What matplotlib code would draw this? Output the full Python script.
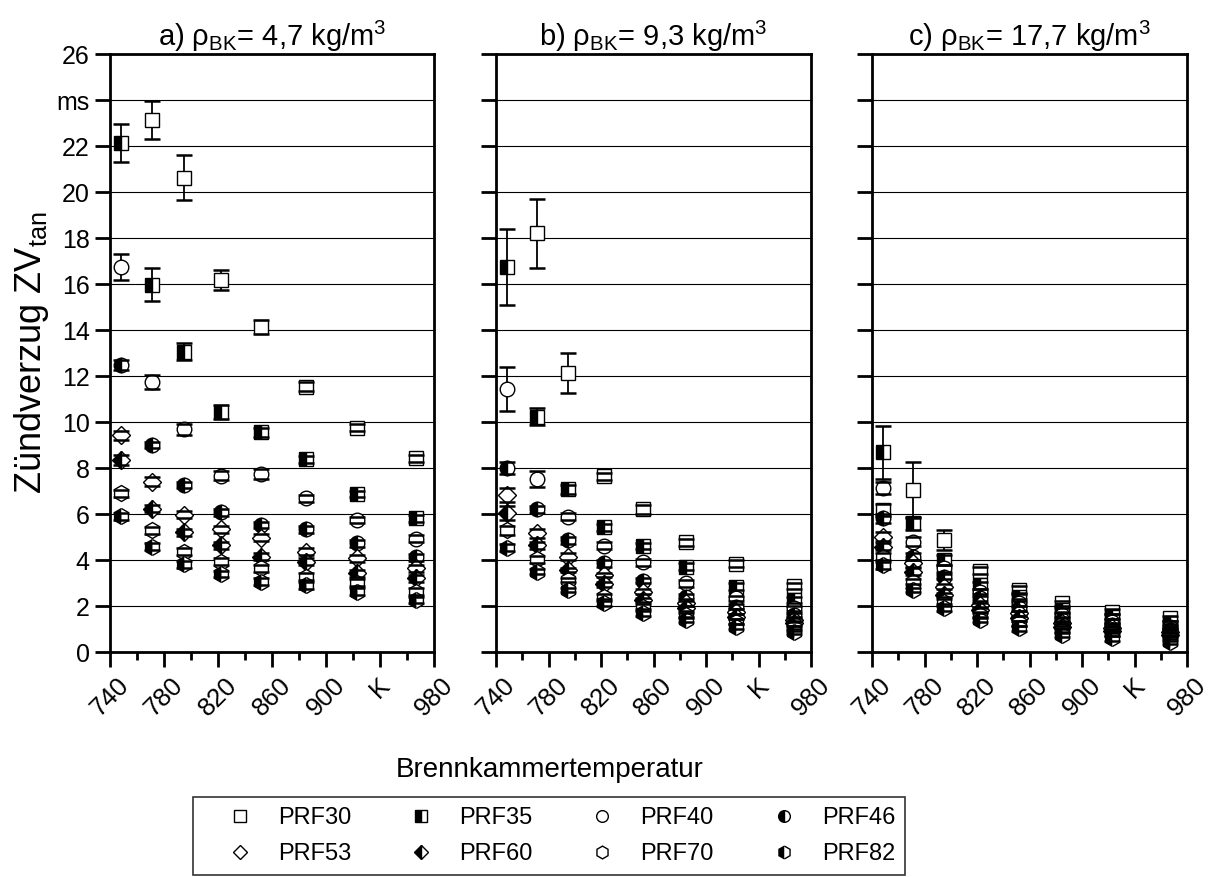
import numpy as np
import matplotlib
matplotlib.use('Agg')
import matplotlib.pyplot as plt
from matplotlib.lines import Line2D

plt.rcParams['font.family'] = ['Liberation Sans', 'DejaVu Sans']
plt.rcParams['mathtext.fontset'] = 'custom'
plt.rcParams['mathtext.rm'] = 'Liberation Sans'
plt.rcParams['mathtext.it'] = 'Liberation Sans:italic'
plt.rcParams['mathtext.bf'] = 'Liberation Sans:bold'

nan = np.nan
temps = [748, 771, 795, 822, 852, 885, 923, 967]
series = ['PRF30', 'PRF35', 'PRF40', 'PRF46', 'PRF53', 'PRF60', 'PRF70', 'PRF82']
titles = ['a) ρ$_{\\mathrm{BK}}$= 4,7 kg/m$^3$',
          'b) ρ$_{\\mathrm{BK}}$= 9,3 kg/m$^3$',
          'c) ρ$_{\\mathrm{BK}}$= 17,7 kg/m$^3$']

# panel a (4,7 kg/m3): values and errors per series
a_prf30 = [nan, 23.12, 20.62, 16.17, 14.12, 11.54, 9.75, 8.42]
a_prf35 = [22.14, 15.96, 13.06, 10.45, 9.55, 8.38, 6.87, 5.81]
a_prf40 = [16.75, 11.75, 9.68, 7.67, 7.74, 6.68, 5.74, 4.93]
a_prf46 = [12.48, 9.00, 7.26, 6.07, 5.52, 5.33, 4.72, 4.12]
a_prf53 = [9.43, 7.41, 5.96, 5.33, 4.97, 4.36, 4.07, 3.64]
a_prf60 = [8.35, 6.22, 5.20, 4.65, 4.14, 3.93, 3.42, 3.20]
a_prf70 = [6.90, 5.30, 4.36, 3.93, 3.64, 3.27, 3.01, 2.62]
a_prf82 = [5.91, 4.58, 3.81, 3.39, 3.06, 2.91, 2.62, 2.26]
a_err30 = [nan, 0.83, 0.97, 0.42, 0.30, 0.20, 0.15, 0.15]
a_err35 = [0.83, 0.72, 0.36, 0.30, 0.20, 0.15, 0.15, 0.15]
a_err40 = [0.57, 0.30, 0.25, 0.20, 0.20, 0.15, 0.15, 0.15]
a_err46 = [0.20, 0.15, 0.15, 0.15, 0.15, 0.15, 0.15, 0.15]
a_err53 = [0.20, 0.20, 0.15, 0.15, 0.15, 0.15, 0.15, 0.15]
a_err60 = [0.20, 0.15, 0.15, 0.15, 0.15, 0.15, 0.15, 0.15]
a_err70 = [0.15, 0.15, 0.15, 0.15, 0.15, 0.15, 0.15, 0.15]
a_err82 = [0.15, 0.15, 0.15, 0.15, 0.15, 0.15, 0.15, 0.15]

# panel b (9,3 kg/m3)
b_prf30 = [nan, 18.20, 12.12, 7.65, 6.20, 4.78, 3.83, 2.87]
b_prf35 = [16.72, 10.23, 7.07, 5.42, 4.61, 3.71, 2.84, 2.26]
b_prf40 = [11.42, 7.51, 5.88, 4.62, 3.90, 2.99, 2.33, 1.90]
b_prf46 = [7.99, 6.20, 4.86, 3.86, 3.10, 2.41, 1.97, 1.61]
b_prf53 = [6.83, 5.16, 4.14, 3.35, 2.62, 2.12, 1.75, 1.39]
b_prf60 = [6.06, 4.65, 3.57, 2.94, 2.26, 1.90, 1.54, 1.25]
b_prf70 = [5.30, 4.04, 3.13, 2.41, 1.97, 1.61, 1.32, 1.03]
b_prf82 = [4.54, 3.49, 2.70, 2.12, 1.68, 1.39, 1.10, 0.88]
b_err30 = [nan, 1.50, 0.87, 0.15, 0.18, 0.15, 0.15, 0.15]
b_err35 = [1.65, 0.36, 0.20, 0.15, 0.15, 0.15, 0.15, 0.15]
b_err40 = [0.95, 0.35, 0.15, 0.15, 0.15, 0.15, 0.10, 0.10]
b_err46 = [0.25, 0.15, 0.15, 0.15, 0.10, 0.10, 0.10, 0.10]
b_err53 = [0.30, 0.20, 0.15, 0.10, 0.10, 0.10, 0.10, 0.10]
b_err60 = [0.30, 0.15, 0.10, 0.10, 0.10, 0.10, 0.10, 0.10]
b_err70 = [0.20, 0.15, 0.10, 0.10, 0.10, 0.10, 0.10, 0.10]
b_err82 = [0.15, 0.10, 0.10, 0.10, 0.10, 0.10, 0.10, 0.10]

# panel c (17,7 kg/m3)
c_prf30 = [6.17, 7.04, 4.87, 3.54, 2.70, 2.12, 1.75, 1.46]
c_prf35 = [8.68, 5.59, 4.00, 2.91, 2.41, 1.83, 1.54, 1.25]
c_prf40 = [7.12, 4.80, 3.64, 2.62, 2.12, 1.61, 1.32, 1.10]
c_prf46 = [5.81, 4.14, 3.27, 2.33, 1.90, 1.39, 1.17, 0.96]
c_prf53 = [5.01, 3.86, 2.84, 2.04, 1.68, 1.25, 1.03, 0.86]
c_prf60 = [4.58, 3.49, 2.48, 1.83, 1.46, 1.10, 0.91, 0.74]
c_prf70 = [4.14, 3.06, 2.19, 1.61, 1.25, 0.96, 0.81, 0.59]
c_prf82 = [3.78, 2.70, 1.90, 1.39, 1.03, 0.74, 0.59, 0.45]
c_err30 = [0.25, 1.20, 0.43, 0.15, 0.15, 0.10, 0.10, 0.10]
c_err35 = [1.15, 0.30, 0.20, 0.15, 0.10, 0.10, 0.10, 0.10]
c_err40 = [0.25, 0.20, 0.15, 0.10, 0.10, 0.10, 0.10, 0.10]
c_err46 = [0.20, 0.15, 0.10, 0.10, 0.10, 0.10, 0.10, 0.10]
c_err53 = [0.20, 0.15, 0.10, 0.10, 0.10, 0.10, 0.10, 0.10]
c_err60 = [0.15, 0.15, 0.10, 0.10, 0.10, 0.10, 0.10, 0.10]
c_err70 = [0.15, 0.10, 0.10, 0.10, 0.10, 0.10, 0.10, 0.10]
c_err82 = [0.15, 0.10, 0.10, 0.10, 0.10, 0.10, 0.10, 0.10]

panels = [
    ([a_prf30, a_prf35, a_prf40, a_prf46, a_prf53, a_prf60, a_prf70, a_prf82],
     [a_err30, a_err35, a_err40, a_err46, a_err53, a_err60, a_err70, a_err82]),
    ([b_prf30, b_prf35, b_prf40, b_prf46, b_prf53, b_prf60, b_prf70, b_prf82],
     [b_err30, b_err35, b_err40, b_err46, b_err53, b_err60, b_err70, b_err82]),
    ([c_prf30, c_prf35, c_prf40, c_prf46, c_prf53, c_prf60, c_prf70, c_prf82],
     [c_err30, c_err35, c_err40, c_err46, c_err53, c_err60, c_err70, c_err82]),
]

x_major = [740, 780, 820, 860, 900, 940, 980]
x_labels = ['740', '780', '820', '860', '900', 'K', '980']
y_major = list(range(0, 27, 2))
y_labels = [str(v) for v in y_major]
y_labels[12] = 'ms'

# marker styles: (marker, size, half filled?)
mstyles = [('s', 10, False), ('s', 10, True), ('o', 10.5, False), ('o', 10.5, True),
           ('D', 9.5, False), ('D', 9.5, True), ('h', 11.5, False), ('h', 11.5, True)]

def mkw(ms, small=1.0):
    m, s, half = ms
    kw = dict(marker=m, markersize=s * small, markeredgecolor='black',
              markeredgewidth=1.0, linestyle='none')
    if half:
        kw.update(fillstyle='left', markerfacecolor='black', markerfacecoloralt='white')
    else:
        kw.update(markerfacecolor='white')
    return kw

FS_YT = 18
FS_XT = 18.5
FS_LAB = 20
FS_TIT = 21
FS_LEG = 17

fig = plt.figure(figsize=(12.09, 8.77), dpi=100)
W, H = 1209.0, 877.0
rects = [(110, 324), (496, 315), (872, 315)]
bottom = 1 - 652 / H
height = (652 - 54) / H

for k, ((lx, w), (vals, errs)) in enumerate(zip(rects, panels)):
    ax = fig.add_axes([lx / W, bottom, w / W, height])
    ax.set_xlim(740, 980)
    ax.set_ylim(0, 26)
    ax.yaxis.grid(True, color='black', linewidth=0.8)
    ax.set_axisbelow(True)
    for i, (v, e) in enumerate(zip(vals, errs)):
        eb = ax.errorbar(temps, v, yerr=e, fmt='none', ecolor='black',
                         elinewidth=1.3, capsize=6, capthick=1.8, zorder=3)
        for cap in eb[1]:
            cap.set_zorder(6)
        ax.plot(temps, v, zorder=4 + 0.01 * i, **mkw(mstyles[i]))
    ax.set_xticks(x_major)
    ax.set_xticklabels(x_labels, rotation=45, ha='center', va='top', fontsize=FS_XT)
    ax.set_xticks(range(760, 980, 40), minor=True)
    ax.set_yticks(y_major)
    if k == 0:
        ax.set_yticklabels(y_labels, fontsize=FS_YT)
        ax.set_ylabel('Zündverzug ZV$_{\\mathrm{tan}}$', fontsize=26, labelpad=4)
    else:
        ax.set_yticklabels([])
    ax.tick_params(axis='both', which='major', direction='out', length=10.5, width=2.0)
    ax.tick_params(axis='x', which='major', pad=5)
    ax.tick_params(axis='y', which='major', pad=4)
    ax.tick_params(axis='x', which='minor', direction='out', length=5.5, width=2.0)
    ax.tick_params(top=False, right=False)
    for sp in ax.spines.values():
        sp.set_linewidth(2.0)
    ax.set_title(titles[k], fontsize=FS_TIT, pad=6)

fig.text(550 / W, 1 - 770 / H, 'Brennkammertemperatur', ha='center', va='center',
         fontsize=FS_LAB)

em = FS_LEG * 100 / 72.0
bp = 10.0 / em
hl = 2 * (47.0 / em - bp)
htp = 85.0 / em - bp - hl
handles = [Line2D([], [], **mkw(mstyles[i], small=0.8)) for i in range(8)]
order = [0, 4, 1, 5, 2, 6, 3, 7]
leg = fig.legend([handles[i] for i in order], [series[i] for i in order], ncol=4,
                 loc='upper center', bbox_to_anchor=(549 / W, 1 - 797 / H),
                 frameon=True, fancybox=False, edgecolor='black', fontsize=FS_LEG,
                 handlelength=hl, handletextpad=htp, columnspacing=1.4,
                 borderpad=bp, labelspacing=0.6, borderaxespad=0)
leg.get_frame().set_linewidth(1.2)

fig.savefig('out.png', dpi=100)
